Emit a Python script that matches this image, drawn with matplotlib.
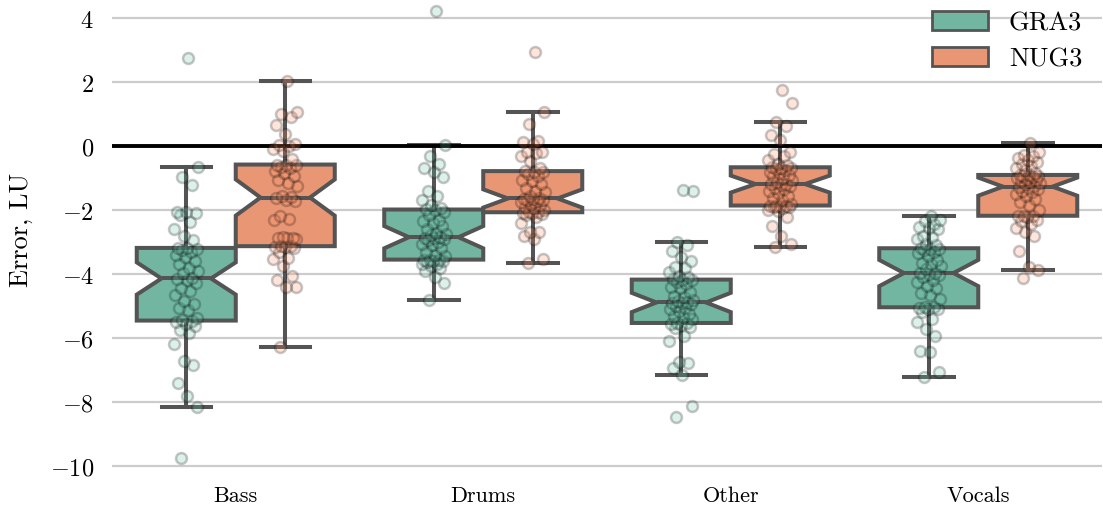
import colorsys
import numpy as np
import matplotlib
matplotlib.use("Agg")
import matplotlib.pyplot as plt
import matplotlib.colors as mcolors
from matplotlib.patches import Patch

# ---------------- data ----------------
categories = ["Bass", "Drums", "Other", "Vocals"]
methods = ["GRA3", "NUG3"]

gra3_bass = [-9.76, -8.15, -7.80, -7.41, -6.84, -6.71, -6.19, -5.85, -5.75, -5.62, -5.55, -5.50,
             -5.46, -5.44,
             -5.36, -5.13, -5.05, -4.95, -4.84, -4.67, -4.53, -4.43, -4.27, -4.20,
             -4.15, -4.13,
             -3.98, -3.90, -3.82, -3.70, -3.58, -3.47, -3.40, -3.32, -3.26, -3.22,
             -3.20, -3.18,
             -2.95, -2.82, -2.59, -2.36, -2.15, -2.10, -2.07, -2.05, -1.22, -0.98, -0.65, 2.75]
nug3_bass = [-6.29, -4.40, -4.40, -4.20, -4.05, -3.75, -3.53, -3.50, -3.30, -3.20, -3.17, -3.15,
             -3.13, -3.13,
             -2.90, -2.87, -2.87, -2.86, -2.85, -2.30, -2.28, -2.20, -1.72, -1.68,
             -1.62, -1.60,
             -1.55, -1.25, -1.15, -1.05, -0.95, -0.85, -0.78, -0.70, -0.65, -0.60,
             -0.58, -0.58,
             -0.40, -0.15, -0.10, 0.00, 0.03, 0.05, 0.37, 0.66, 0.90, 1.00, 1.05, 2.02]
gra3_drums = [-4.81, -4.27, -4.10, -3.90, -3.80, -3.75, -3.70, -3.68, -3.62, -3.60, -3.58, -3.56,
              -3.55, -3.55,
              -3.45, -3.40, -3.30, -3.20, -3.10, -3.05, -3.00, -2.95, -2.90, -2.88,
              -2.86, -2.84,
              -2.78, -2.75, -2.72, -2.60, -2.50, -2.40, -2.33, -2.30, -2.15, -2.05,
              -2.00, -1.98,
              -1.95, -1.85, -1.70, -1.55, -1.40, -0.97, -0.82, -0.70, -0.56, -0.30, 0.03, 4.23]
nug3_drums = [-3.67, -3.53, -2.90, -2.80, -2.70, -2.68, -2.40, -2.23, -2.15, -2.12, -2.10, -2.08,
              -2.07, -2.07,
              -2.00, -1.95, -1.90, -1.85, -1.80, -1.75, -1.72, -1.70, -1.68, -1.66,
              -1.65, -1.63,
              -1.55, -1.45, -1.40, -1.30, -1.20, -1.10, -1.06, -0.95, -0.88, -0.82,
              -0.80, -0.78,
              -0.70, -0.48, -0.30, -0.22, -0.20, -0.18, 0.05, 0.11, 0.15, 0.69, 1.05, 2.93]
gra3_other = [-8.46, -8.14, -7.16, -6.95, -6.78, -6.75, -6.10, -5.93, -5.70, -5.65, -5.58, -5.55,
              -5.53, -5.53,
              -5.42, -5.35, -5.30, -5.25, -5.15, -5.10, -5.05, -5.00, -4.95, -4.92,
              -4.90, -4.88,
              -4.85, -4.80, -4.72, -4.68, -4.55, -4.45, -4.40, -4.30, -4.25, -4.20,
              -4.19, -4.17,
              -4.10, -4.05, -3.95, -3.80, -3.78, -3.60, -3.48, -3.27, -3.10, -3.01, -1.42, -1.38]
nug3_other = [-3.17, -3.05, -2.80, -2.49, -2.23, -2.02, -2.00, -1.95, -1.92, -1.90, -1.88, -1.87,
              -1.86, -1.86,
              -1.80, -1.70, -1.62, -1.55, -1.48, -1.42, -1.35, -1.30, -1.25, -1.21,
              -1.20, -1.18,
              -1.12, -1.05, -1.00, -0.95, -0.90, -0.85, -0.80, -0.75, -0.72, -0.69,
              -0.68, -0.66,
              -0.60, -0.55, -0.45, -0.30, -0.25, -0.20, 0.20, 0.35, 0.63, 0.74, 1.33, 1.75]
gra3_vocals = [-7.23, -7.07, -6.45, -6.42, -5.94, -5.72, -5.50, -5.40, -5.20, -5.10, -5.08, -5.06,
               -5.04, -5.04,
               -4.78, -4.65, -4.58, -4.45, -4.38, -4.25, -4.18, -4.10, -4.02, -3.99,
               -3.98, -3.96,
               -3.85, -3.75, -3.70, -3.65, -3.55, -3.45, -3.35, -3.30, -3.25, -3.22,
               -3.21, -3.19,
               -3.10, -3.05, -2.90, -2.85, -2.80, -2.60, -2.56, -2.52, -2.45, -2.35, -2.30, -2.20]
nug3_vocals = [-4.13, -3.86, -3.78, -3.27, -2.80, -2.70, -2.55, -2.45, -2.35, -2.30, -2.22, -2.20,
               -2.18, -2.18,
               -2.00, -1.85, -1.75, -1.65, -1.55, -1.50, -1.45, -1.40, -1.35, -1.30,
               -1.28, -1.26,
               -1.20, -1.15, -1.12, -1.08, -1.05, -1.02, -1.00, -0.97, -0.95, -0.93,
               -0.92, -0.90,
               -0.85, -0.75, -0.70, -0.62, -0.55, -0.50, -0.45, -0.38, -0.32, -0.28, -0.20, 0.09]

data = {
    "GRA3": [gra3_bass, gra3_drums, gra3_other, gra3_vocals],
    "NUG3": [nug3_bass, nug3_drums, nug3_other, nug3_vocals],
}
ytick_values = [-10, -8, -6, -4, -2, 0, 2, 4]

# ---------------- style ----------------
plt.rcParams["font.family"] = ["cmr10", "DejaVu Serif"]
plt.rcParams["mathtext.fontset"] = "cm"
plt.rcParams["axes.unicode_minus"] = False

base_colors = ["#66c2a5", "#fc8d62"]  # Set2


def desaturate(c, prop):
    r, g, b = mcolors.to_rgb(c)
    h, l, s = colorsys.rgb_to_hls(r, g, b)
    return colorsys.hls_to_rgb(h, l, s * prop)


box_colors = [desaturate(c, 0.75) for c in base_colors]
line_c = "#545454"
lw = 2.9

W, H, DPI = 1103, 506, 100
fig = plt.figure(figsize=(W / DPI, H / DPI), dpi=DPI)

ylo, yhi = -10.4, 5.2
px_per_unit = 32.0
ax_left_px, ax_right_px = 112, 1102
ax_bottom_px = 147 + px_per_unit * 10.4  # pixel row of ylo (from top)
ax_h_px = (yhi - ylo) * px_per_unit
ax = fig.add_axes([ax_left_px / W, (H - ax_bottom_px) / H,
                   (ax_right_px - ax_left_px) / W, ax_h_px / H])

ax.set_xlim(-0.5, 3.5)
ax.set_ylim(ylo, yhi)
for s in ax.spines.values():
    s.set_visible(False)
ax.yaxis.grid(True, color="#cccccc", lw=1.6, zorder=0)
ax.xaxis.grid(False)
ax.set_axisbelow(True)

ax.axhline(0, color="black", lw=2.8, zorder=2.5)

width = 0.4
n_h = len(methods)
for h, m in enumerate(methods):
    pos = np.arange(len(categories)) + (h - (n_h - 1) / 2) * width
    ax.boxplot(data[m], positions=pos, widths=width, notch=True, patch_artist=True,
               showfliers=False, whis=1.5, manage_ticks=False,
               boxprops=dict(facecolor=box_colors[h], edgecolor=line_c, linewidth=lw),
               whiskerprops=dict(color=line_c, linewidth=lw),
               capprops=dict(color=line_c, linewidth=lw),
               medianprops=dict(color=line_c, linewidth=lw),
               zorder=2)
    for i, vals in enumerate(data[m]):
        n = len(vals)
        jit = (((np.arange(n) * 0.6180339887 + 0.3) % 1.0) - 0.5) * 2 * 0.05
        ax.scatter(np.full(n, pos[i]) + jit, vals, s=62, c=[base_colors[h]],
                   edgecolors="black", linewidths=1.8, alpha=0.22, zorder=3)

ax.set_xticks(np.arange(len(categories)))
ax.set_xticklabels(categories, fontsize=16)
ax.set_yticks(ytick_values)
ax.set_yticklabels([f"${v}$" for v in ytick_values], fontsize=17.5)
ax.tick_params(axis="both", length=0)
ax.tick_params(axis="y", pad=13)
ax.tick_params(axis="x", pad=5)
ax.set_ylabel("Error, LU", fontsize=19, labelpad=12)

handles = [Patch(facecolor=box_colors[h], edgecolor=line_c, linewidth=2.0, label=m)
           for h, m in enumerate(methods)]
ax.legend(handles=handles, loc="upper right", bbox_to_anchor=(1.004, 0.985),
          frameon=False, fontsize=19,
          handlelength=2.1, handleheight=0.75, handletextpad=0.8, labelspacing=0.45)

fig.savefig("out.png", dpi=DPI)
